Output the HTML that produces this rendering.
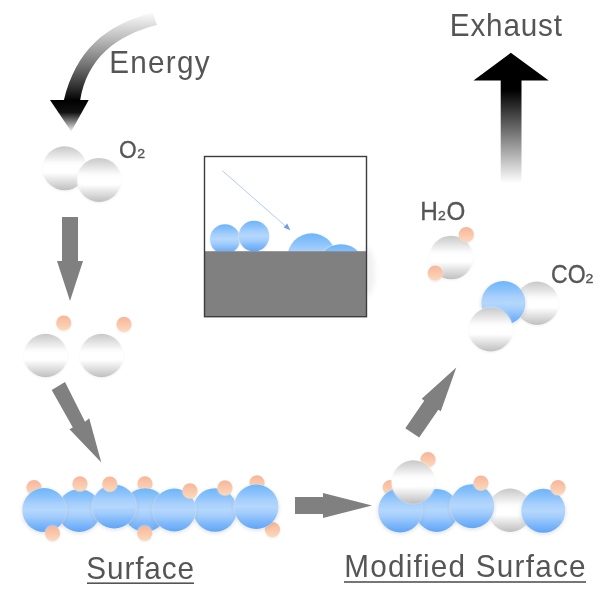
<!DOCTYPE html>
<html><head><meta charset="utf-8"><title>Surface reaction diagram</title>
<style>
html,body{margin:0;padding:0;background:#fff;}
body{width:600px;height:600px;overflow:hidden;}
svg{display:block;will-change:transform;}
text{font-family:"Liberation Sans",sans-serif;fill:#555;}
</style></head><body>
<svg width="600" height="600" viewBox="0 0 600 600">
<defs>
<linearGradient id="gG" x1="0" y1="0" x2="0" y2="1">
<stop offset="0" stop-color="#c8c8c8"/><stop offset="0.37" stop-color="#fbfbfb"/><stop offset="0.45" stop-color="#ffffff"/><stop offset="0.6" stop-color="#ffffff"/><stop offset="1" stop-color="#bfbfbf"/>
</linearGradient>
<linearGradient id="gB" x1="0" y1="0" x2="0" y2="1">
<stop offset="0" stop-color="#6cb5fb"/><stop offset="0.18" stop-color="#88c1fb"/><stop offset="0.36" stop-color="#a8d0fc"/><stop offset="0.5" stop-color="#b4d7fd"/><stop offset="0.64" stop-color="#a4cdfc"/><stop offset="0.82" stop-color="#7eb8fa"/><stop offset="1" stop-color="#60a5f8"/>
</linearGradient>
<linearGradient id="gO" x1="0" y1="0" x2="0" y2="1">
<stop offset="0" stop-color="#f8b59a"/><stop offset="1" stop-color="#fcd9bb"/>
</linearGradient>
<linearGradient id="gEn" gradientUnits="userSpaceOnUse" x1="0" y1="101" x2="0" y2="11">
<stop offset="0" stop-color="#000"/><stop offset="0.12" stop-color="#262626"/><stop offset="0.4" stop-color="#747474"/><stop offset="0.7" stop-color="#bebebe"/><stop offset="1" stop-color="#fff"/>
</linearGradient>
<linearGradient id="gEnH" gradientUnits="userSpaceOnUse" x1="0" y1="100" x2="0" y2="131">
<stop offset="0" stop-color="#000"/><stop offset="0.4" stop-color="#111"/><stop offset="1" stop-color="#eee"/>
</linearGradient>
<linearGradient id="gEx" gradientUnits="userSpaceOnUse" x1="0" y1="80" x2="0" y2="183">
<stop offset="0" stop-color="#000"/><stop offset="0.1" stop-color="#000"/><stop offset="1" stop-color="#fff"/>
</linearGradient>
<filter id="sh" x="-30%" y="-30%" width="160%" height="160%" color-interpolation-filters="sRGB">
<feGaussianBlur in="SourceAlpha" stdDeviation="2.2" result="b1"/>
<feOffset in="b1" dx="0" dy="1.2" result="o1"/>
<feComponentTransfer in="o1" result="dark"><feFuncA type="linear" slope="0.17"/></feComponentTransfer>
<feGaussianBlur in="SourceAlpha" stdDeviation="0.9" result="b2"/>
<feFlood flood-color="#fff" flood-opacity="0.75" result="w"/>
<feComposite in="w" in2="b2" operator="in" result="glow"/>
<feMerge><feMergeNode in="dark"/><feMergeNode in="glow"/><feMergeNode in="SourceGraphic"/></feMerge>
</filter>
<filter id="shg" x="-30%" y="-30%" width="160%" height="160%" color-interpolation-filters="sRGB">
<feGaussianBlur in="SourceAlpha" stdDeviation="1.6" result="b1"/>
<feOffset in="b1" dx="0" dy="0.5" result="o1"/>
<feComponentTransfer in="o1" result="dark"><feFuncA type="linear" slope="0.07"/></feComponentTransfer>
<feGaussianBlur in="SourceAlpha" stdDeviation="0.9" result="b2"/>
<feFlood flood-color="#fff" flood-opacity="0.75" result="w"/>
<feComposite in="w" in2="b2" operator="in" result="glow"/>
<feMerge><feMergeNode in="dark"/><feMergeNode in="glow"/><feMergeNode in="SourceGraphic"/></feMerge>
</filter>
<filter id="shs" x="-40%" y="-40%" width="180%" height="180%" color-interpolation-filters="sRGB">
<feGaussianBlur in="SourceAlpha" stdDeviation="1.3" result="b1"/>
<feOffset in="b1" dx="0" dy="0.5" result="o1"/>
<feComponentTransfer in="o1" result="dark"><feFuncA type="linear" slope="0.10"/></feComponentTransfer>
<feGaussianBlur in="SourceAlpha" stdDeviation="0.8" result="b2"/>
<feFlood flood-color="#fff" flood-opacity="0.8" result="w"/>
<feComposite in="w" in2="b2" operator="in" result="glow"/>
<feMerge><feMergeNode in="dark"/><feMergeNode in="glow"/><feMergeNode in="SourceGraphic"/></feMerge>
</filter>
<filter id="blur3" x="-100%" y="-50%" width="300%" height="200%"><feGaussianBlur stdDeviation="2.5"/></filter>
<clipPath id="boxclip"><rect x="204" y="156" width="163" height="95.5"/></clipPath>
</defs>
<path d="M152.7 12.5 C104.2 25.1, 75.9 51.2, 63.8 100.5 L80.1 100.5 C86.9 58.3, 116.3 35, 157 24.9 Z" fill="url(#gEn)"/>
<path d="M50 100 L88.7 100 L71.2 131.5 Z" fill="url(#gEnH)"/>
<text transform="translate(109.3 72.5) scale(0.94 1)" x="0" y="0" font-size="31.6" textLength="106.70" lengthAdjust="spacing">Energy</text>
<circle cx="64.6" cy="168.3" r="22" fill="url(#gG)" filter="url(#shg)"/>
<circle cx="99.2" cy="179.9" r="22" fill="url(#gG)" filter="url(#shg)"/>
<text x="119" y="157.6" font-size="24.6" textLength="17.7" lengthAdjust="spacingAndGlyphs" stroke="#555" stroke-width="0.3">O</text>
<text x="137.3" y="157.6" font-size="12.5" textLength="7.8" lengthAdjust="spacingAndGlyphs" stroke="#555" stroke-width="0.35">2</text>
<path d="M62 217 H78 V261 H83 L70 301 L57 261 H62 Z" fill="#808080"/>
<circle cx="63.75" cy="323" r="7.6" fill="url(#gO)" filter="url(#shs)"/>
<circle cx="124" cy="324.3" r="7.6" fill="url(#gO)" filter="url(#shs)"/>
<circle cx="45.6" cy="355.5" r="21.7" fill="url(#gG)" filter="url(#shg)"/>
<circle cx="101.6" cy="355.5" r="21.7" fill="url(#gG)" filter="url(#shg)"/>
<path d="M51.7 390 L65 382 L85 421.7 L89.2 418.3 L101.3 462.5 L69.5 429.2 L72.8 427.5 Z" fill="#808080"/>
<circle cx="34" cy="487.6" r="7.6" fill="url(#gO)" filter="url(#shs)"/>
<circle cx="79.2" cy="510.5" r="21.5" fill="url(#gB)" filter="url(#sh)"/>
<circle cx="44.3" cy="510.1" r="22" fill="url(#gB)" filter="url(#sh)"/>
<circle cx="80" cy="483.9" r="7.6" fill="url(#gO)" filter="url(#shs)"/>
<circle cx="52.5" cy="533.3" r="7.6" fill="url(#gO)" filter="url(#shs)"/>
<circle cx="145" cy="483.8" r="7.6" fill="url(#gO)" filter="url(#shs)"/>
<circle cx="145" cy="510" r="21.8" fill="url(#gB)" filter="url(#sh)"/>
<circle cx="114.2" cy="506.5" r="22" fill="url(#gB)" filter="url(#sh)"/>
<circle cx="109.8" cy="484.2" r="7.6" fill="url(#gO)" filter="url(#shs)"/>
<circle cx="144.7" cy="533.3" r="7.6" fill="url(#gO)" filter="url(#shs)"/>
<circle cx="215" cy="510" r="21.8" fill="url(#gB)" filter="url(#sh)"/>
<circle cx="174.3" cy="510" r="21.5" fill="url(#gB)" filter="url(#sh)"/>
<circle cx="190" cy="490.8" r="7.6" fill="url(#gO)" filter="url(#shs)"/>
<circle cx="225" cy="487.8" r="7.6" fill="url(#gO)" filter="url(#shs)"/>
<circle cx="257" cy="482.8" r="7.6" fill="url(#gO)" filter="url(#shs)"/>
<circle cx="272.5" cy="529.6" r="7.6" fill="url(#gO)" filter="url(#shs)"/>
<circle cx="256.3" cy="506.7" r="22.2" fill="url(#gB)" filter="url(#sh)"/>
<text transform="translate(86.3 578.5) scale(0.94 1)" x="0" y="0" font-size="31.6" textLength="114.57" lengthAdjust="spacing">Surface</text>
<rect x="87" y="582.4" width="107" height="1.6" fill="#555"/>
<path d="M295 497 H323 V493 L372 505.5 L323 518 V514 H295 Z" fill="#808080"/>
<circle cx="390.3" cy="487.6" r="7.6" fill="url(#gO)" filter="url(#shs)"/>
<circle cx="436.7" cy="510.4" r="21.5" fill="url(#gB)" filter="url(#sh)"/>
<circle cx="400.2" cy="510.4" r="22" fill="url(#gB)" filter="url(#sh)"/>
<circle cx="428" cy="459.7" r="7.6" fill="url(#gO)" filter="url(#shs)"/>
<circle cx="413.3" cy="482" r="21.7" fill="url(#gG)" filter="url(#shg)"/>
<circle cx="510" cy="510.2" r="21.7" fill="url(#gG)" filter="url(#shg)"/>
<circle cx="472.2" cy="506.2" r="22" fill="url(#gB)" filter="url(#sh)"/>
<circle cx="543.3" cy="510.8" r="22" fill="url(#gB)" filter="url(#sh)"/>
<circle cx="481" cy="483" r="7.6" fill="url(#gO)" filter="url(#shs)"/>
<circle cx="558" cy="487.6" r="7.6" fill="url(#gO)" filter="url(#shs)"/>
<text transform="translate(344.2 577) scale(0.94 1)" x="0" y="0" font-size="31.6" textLength="256.81" lengthAdjust="spacing">Modified Surface</text>
<rect x="344" y="581.2" width="242" height="1.6" fill="#555"/>
<path d="M456.3 367.5 L421.7 398.7 L424.2 400.8 L405.3 428.3 L419.2 437.5 L438.3 409.7 L440.8 411.3 Z" fill="#808080"/>
<circle cx="451.2" cy="257.5" r="21.8" fill="url(#gG)" filter="url(#shg)"/>
<circle cx="466.3" cy="234.7" r="7.6" fill="url(#gO)" filter="url(#shs)"/>
<circle cx="435.2" cy="273.1" r="7.6" fill="url(#gO)" filter="url(#shs)"/>
<text x="420.3" y="219.6" font-size="25" textLength="17.6" lengthAdjust="spacingAndGlyphs" stroke="#555" stroke-width="0.3">H</text>
<text x="438" y="219.5" font-size="12.5" textLength="7.8" lengthAdjust="spacingAndGlyphs" stroke="#555" stroke-width="0.35">2</text>
<text x="446.6" y="219.6" font-size="25" textLength="18.8" lengthAdjust="spacingAndGlyphs" stroke="#555" stroke-width="0.3">O</text>
<circle cx="537" cy="303.2" r="21.7" fill="url(#gG)" filter="url(#shg)"/>
<circle cx="503.4" cy="303" r="22" fill="url(#gB)" filter="url(#sh)"/>
<circle cx="490.7" cy="329.5" r="22" fill="url(#gG)" filter="url(#shg)"/>
<text x="551" y="283.3" font-size="25" textLength="34.6" lengthAdjust="spacingAndGlyphs" stroke="#555" stroke-width="0.3">CO</text>
<text x="585.6" y="283.2" font-size="12.5" textLength="7.8" lengthAdjust="spacingAndGlyphs" stroke="#555" stroke-width="0.35">2</text>
<text transform="translate(449.8 36.4) scale(0.94 1)" x="0" y="0" font-size="31.6" textLength="119.36" lengthAdjust="spacing">Exhaust</text>
<path d="M510.8 52.8 L548.7 80.5 H521.5 V183 H500.7 V80.5 H473.5 Z" fill="url(#gEx)"/>
<g clip-path="url(#boxclip)">
<circle cx="225" cy="239.2" r="15" fill="url(#gB)" filter="url(#shs)"/>
<circle cx="254" cy="236.1" r="15.3" fill="url(#gB)" filter="url(#shs)"/>
<circle cx="311.7" cy="257.8" r="24.5" fill="url(#gB)"/>
<circle cx="341" cy="268.7" r="24.5" fill="url(#gB)" filter="url(#shs)"/>
</g>
<ellipse cx="367" cy="272" rx="8" ry="24" fill="#000" opacity="0.055" filter="url(#blur3)"/>
<rect x="204.5" y="251.2" width="162" height="65.5" fill="#808080"/>
<rect x="204.5" y="156.5" width="162" height="160.2" fill="none" stroke="#3c3c3c" stroke-width="1.4"/>
<line x1="222.5" y1="170.8" x2="288" y2="228.3" stroke="#a8c6ee" stroke-width="0.9"/>
<path d="M290.3 230.2 L283.6 227.6 L287.2 223.6 Z" fill="#6d9fe6"/>
</svg>
</body></html>
